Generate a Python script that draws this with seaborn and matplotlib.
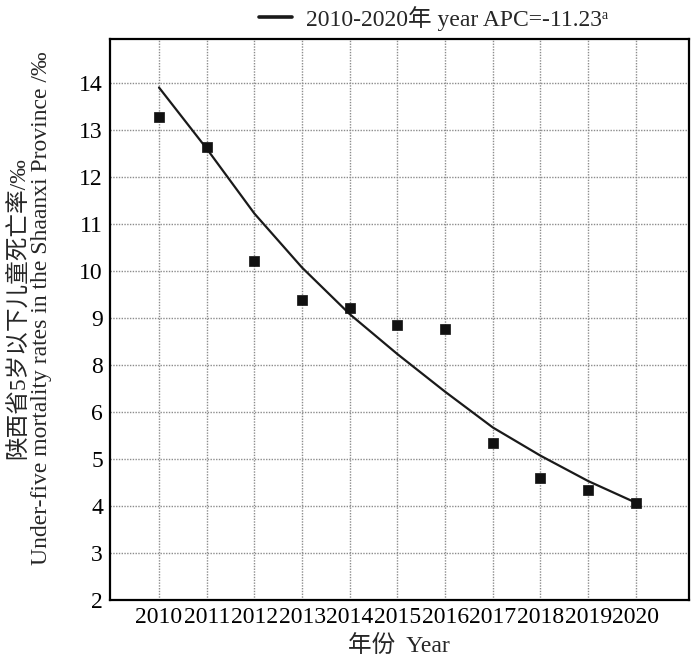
import matplotlib
matplotlib.use("Agg")
import matplotlib.pyplot as plt
import seaborn as sns
import numpy as np
import pandas as pd

# values (in the units printed on the y axis)
years = [2010, 2011, 2012, 2013, 2014, 2015, 2016, 2017, 2018, 2019, 2020]
observed = [13.28, 12.64, 10.21, 9.39, 9.21, 8.85, 8.77, 5.33, 4.60, 4.33, 4.07]
fitted = [13.90, 12.60, 11.22, 10.07, 9.08, 8.23, 6.86, 5.67, 5.07, 4.53, 4.07]
y_ticks = [2, 3, 4, 5, 6, 8, 9, 10, 11, 12, 13, 14]  # the original axis skips 7

legend_label = "2010-2020年 year APC=-11.23ᵃ"
x_label = "年份  Year"
y_label = "陕西省5岁以下儿童死亡率/‰\nUnder-five mortality rates in the Shaanxi Province /‰"

sns.set_style("white")
plt.rcParams["font.family"] = ["Liberation Serif", "Noto Sans CJK SC", "DejaVu Sans"]

# the printed ticks are equally spaced although 7 is missing -> piecewise scale
lab_ext = np.array([-100.0] + y_ticks + [100.0])
pos_ext = np.array([-102.0] + list(range(len(y_ticks))) + [97.0])


def fwd(v):
    return np.interp(v, lab_ext, pos_ext)


def inv(p):
    return np.interp(p, pos_ext, lab_ext)


df = pd.DataFrame({"year": years, "observed": observed, "fitted": fitted})

fig = plt.figure(figsize=(7, 6.67), dpi=100)
ax = fig.add_axes([0.157, 0.1004, 0.827, 0.841])
ax.set_yscale("function", functions=(fwd, inv))

sns.lineplot(data=df, x="year", y="fitted", ax=ax, color="#1a1a1a", linewidth=1.6,
             label=legend_label, zorder=3)
sns.scatterplot(data=df, x="year", y="observed", ax=ax, marker="s", s=55,
                color="#111111", edgecolor="#111111", linewidth=0.5, zorder=4,
                legend=False)

ax.set_xlim(2008.97, 2021.11)
ax.set_ylim(2, 14.93)
ax.set_xticks(years)
ax.set_xticklabels([str(y) for y in years])
ax.set_yticks(y_ticks)
ax.set_yticklabels([str(t) for t in y_ticks])
ax.yaxis.set_minor_locator(matplotlib.ticker.NullLocator())

ax.grid(True, color="#8c8c8c", linestyle=(0, (1, 1)), linewidth=1.0)
ax.set_axisbelow(True)
for sp in ax.spines.values():
    sp.set_color("black")
    sp.set_linewidth(1.6)

ax.tick_params(length=0, pad=5, labelsize=17, colors="black")
ax.set_xlabel(x_label, fontsize=17, labelpad=5)
ax.set_ylabel(y_label, fontsize=17, linespacing=1.1)
ax.yaxis.set_label_coords(-0.10, 0.52)

leg = ax.legend(loc="lower center", bbox_to_anchor=(0.62, 0.94), bbox_transform=fig.transFigure,
                frameon=False, fontsize=17, handlelength=1.4, handletextpad=0.6,
                borderaxespad=0)
for h in leg.get_lines():
    h.set_linewidth(2.6)

fig.savefig("out.png", dpi=100)
